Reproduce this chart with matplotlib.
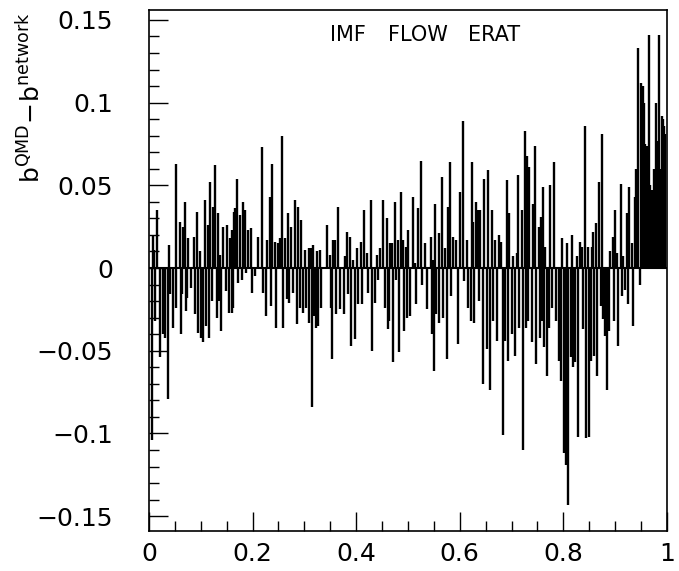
import matplotlib
matplotlib.use("Agg")
import matplotlib.pyplot as plt
from matplotlib.ticker import MultipleLocator, FuncFormatter

# b/bmax positions and residuals b(QMD) - b(network) in slices
b_a = [0.005, 0.007, 0.010, 0.012, 0.015, 0.021, 0.028, 0.031, 0.036, 0.039,
       0.041, 0.047, 0.052, 0.053, 0.060, 0.062, 0.064, 0.066, 0.069, 0.071,
       0.073, 0.076, 0.082, 0.086, 0.089, 0.092, 0.095, 0.098, 0.100, 0.105,
       0.108, 0.111, 0.114, 0.116, 0.118, 0.121, 0.124, 0.127, 0.131, 0.133,
       0.135, 0.137, 0.140, 0.143, 0.148, 0.150, 0.154, 0.156, 0.160, 0.161,
       0.162, 0.165, 0.166, 0.169]
d_a = [-0.104, 0.020, 0.011, -0.032, 0.035, -0.054, -0.040, -0.042, -0.079, 0.014,
       -0.016, -0.036, -0.024, 0.063, 0.028, -0.040, -0.016, 0.025, 0.040, -0.026,
       -0.018, 0.018, -0.012, 0.019, -0.028, 0.034, -0.039, 0.010, -0.042, -0.045,
       0.041, -0.035, 0.026, -0.042, 0.052, -0.020, 0.037, 0.062, -0.030, 0.033,
       -0.020, 0.008, -0.038, 0.025, -0.014, 0.026, -0.027, 0.018, -0.027, 0.023,
       -0.024, 0.034, 0.036, 0.054]

b_b = [0.172, 0.176, 0.179, 0.181, 0.185, 0.187, 0.192, 0.196, 0.198, 0.205,
       0.211, 0.218, 0.221, 0.226, 0.228, 0.234, 0.236, 0.238, 0.243, 0.245,
       0.250, 0.253, 0.257, 0.259, 0.263, 0.266, 0.269, 0.270, 0.274, 0.279,
       0.282, 0.285, 0.288, 0.291, 0.293, 0.298, 0.301, 0.303, 0.308, 0.309,
       0.312, 0.315, 0.317, 0.319, 0.322, 0.325, 0.327, 0.330, 0.333]
d_b = [-0.009, 0.032, -0.007, 0.040, 0.035, -0.003, 0.023, 0.024, -0.015, -0.005,
       0.019, 0.073, -0.015, -0.029, 0.017, 0.043, -0.023, 0.063, 0.016, -0.036,
       0.015, 0.018, 0.080, -0.036, 0.018, -0.019, 0.033, -0.021, 0.025, -0.015,
       0.041, -0.034, 0.037, -0.024, 0.029, -0.027, 0.011, -0.024, 0.012, -0.033,
       0.012, -0.084, 0.014, -0.029, -0.036, 0.010, -0.035, 0.011, -0.024]

b_c = [0.343, 0.349, 0.351, 0.354, 0.356, 0.359, 0.361, 0.364, 0.369, 0.376,
       0.378, 0.382, 0.385, 0.388, 0.390, 0.394, 0.398, 0.401, 0.404, 0.409,
       0.411, 0.416, 0.420, 0.422, 0.429, 0.431, 0.436, 0.440, 0.443, 0.446,
       0.452, 0.456, 0.459, 0.461, 0.463, 0.465, 0.469, 0.472, 0.475, 0.477,
       0.481, 0.483, 0.486, 0.491, 0.492, 0.496, 0.498]
d_c = [0.026, 0.008, -0.024, -0.055, 0.017, 0.017, -0.028, 0.037, -0.025, -0.028,
       0.007, 0.022, -0.016, 0.019, -0.047, 0.005, -0.043, 0.012, -0.022, 0.016,
       -0.022, 0.035, 0.009, -0.015, 0.041, -0.050, -0.021, 0.008, -0.007, 0.012,
       0.041, -0.024, 0.030, -0.037, -0.032, 0.015, 0.015, -0.057, 0.040, -0.007,
       0.017, -0.051, 0.046, 0.017, -0.038, 0.013, -0.030]

b_d = [0.501, 0.504, 0.510, 0.514, 0.515, 0.520, 0.526, 0.528, 0.533, 0.536,
       0.544, 0.546, 0.548, 0.550, 0.552, 0.555, 0.559, 0.560, 0.565, 0.568,
       0.571, 0.575, 0.578, 0.581, 0.583, 0.587, 0.593, 0.597, 0.600, 0.607,
       0.608, 0.613, 0.616, 0.622, 0.623, 0.626, 0.627, 0.631, 0.636, 0.637,
       0.640, 0.644, 0.647, 0.653, 0.655, 0.658]
d_d = [0.023, -0.029, 0.043, 0.003, -0.022, 0.036, 0.065, -0.010, 0.015, -0.025,
       0.019, -0.040, 0.005, -0.062, 0.039, -0.028, -0.033, 0.021, 0.055, -0.030,
       0.012, -0.055, 0.037, 0.064, -0.017, 0.019, 0.017, -0.046, 0.046, 0.089,
       -0.008, 0.017, -0.024, -0.032, 0.064, 0.028, -0.033, 0.040, 0.035, -0.020,
       0.035, -0.070, 0.054, -0.049, 0.059, -0.074]

b_e = [0.662, 0.665, 0.668, 0.671, 0.676, 0.680, 0.683, 0.687, 0.691, 0.693,
       0.695, 0.700, 0.703, 0.707, 0.710, 0.713, 0.715, 0.720, 0.722, 0.725,
       0.727, 0.729, 0.732, 0.734, 0.739, 0.742, 0.745, 0.747, 0.752, 0.754,
       0.756, 0.758, 0.760, 0.763, 0.765, 0.768, 0.772, 0.774, 0.778, 0.781,
       0.785, 0.792, 0.795, 0.798, 0.801, 0.805, 0.807, 0.809, 0.815, 0.817,
       0.819, 0.822, 0.826, 0.829]
d_e = [0.035, -0.032, 0.017, -0.044, 0.020, 0.016, -0.101, -0.044, 0.053, -0.056,
       0.033, -0.040, 0.007, -0.053, 0.009, 0.056, -0.036, 0.035, -0.110, 0.083,
       -0.036, 0.068, -0.032, 0.061, -0.045, 0.039, 0.074, -0.058, 0.025, -0.042,
       0.031, -0.032, 0.049, -0.048, 0.013, -0.065, -0.036, 0.050, -0.024, 0.064,
       -0.032, -0.056, -0.068, 0.018, -0.112, -0.119, 0.015, -0.143, -0.054, 0.020,
       -0.060, -0.057, 0.007, -0.102]

b_f = [0.832, 0.835, 0.837, 0.842, 0.844, 0.848, 0.850, 0.853, 0.855, 0.858,
       0.860, 0.863, 0.865, 0.869, 0.872, 0.875, 0.877, 0.880, 0.884, 0.888,
       0.890, 0.895, 0.897, 0.899, 0.903, 0.906, 0.911, 0.913, 0.916, 0.918,
       0.922, 0.925, 0.927, 0.932, 0.934, 0.938, 0.940, 0.945, 0.948, 0.950,
       0.952, 0.954, 0.956, 0.958, 0.960, 0.962, 0.964, 0.966, 0.968, 0.972,
       0.974, 0.977, 0.979, 0.981, 0.983, 0.985, 0.988, 0.990, 0.992, 0.995,
       0.997]
d_f = [0.016, 0.013, -0.037, 0.086, -0.103, 0.013, -0.102, -0.056, 0.013, 0.022,
       -0.053, 0.027, -0.065, 0.052, -0.023, 0.081, -0.031, -0.041, -0.074, -0.038,
       0.010, 0.019, -0.032, 0.035, 0.009, -0.047, 0.051, -0.017, 0.007, -0.013,
       0.033, -0.022, 0.049, 0.015, -0.035, 0.043, 0.060, 0.133, -0.010, 0.112,
       0.090, 0.110, 0.100, 0.075, 0.070, 0.074, 0.030, 0.141, 0.050, 0.047,
       0.060, 0.058, 0.100, 0.077, 0.050, 0.141, 0.060, 0.092, 0.090, 0.086,
       0.081]

b_all = b_a + b_b + b_c + b_d + b_e + b_f
d_all = d_a + d_b + d_c + d_d + d_e + d_f

title_words = ["IMF", "FLOW", "ERAT"]


def fmt(v, pos):
    s = "%g" % round(v, 3)
    return s.replace("-", "\u2212")


plt.rcParams['font.family'] = ['DejaVu Sans']
fig = plt.figure(figsize=(6.79, 5.71), dpi=100)
ax = fig.add_axes([0.2194, 0.070, 0.7629, 0.9125])

ax.vlines(b_all, 0, d_all, color='black', lw=1.7)
ax.axhline(0, color='black', lw=1.5)

ax.set_xlim(0, 1)
ax.set_ylim(-0.159, 0.156)

ax.xaxis.set_major_locator(MultipleLocator(0.2))
ax.xaxis.set_minor_locator(MultipleLocator(0.05))
ax.yaxis.set_major_locator(MultipleLocator(0.05))
ax.yaxis.set_minor_locator(MultipleLocator(0.01))
ax.xaxis.set_major_formatter(FuncFormatter(fmt))
ax.yaxis.set_major_formatter(FuncFormatter(fmt))

ax.tick_params(axis='both', which='both', direction='in', top=False, right=False,
               width=1.0, labelsize=18)
ax.tick_params(axis='both', which='major', length=14)
ax.tick_params(axis='both', which='minor', length=7)
ax.tick_params(axis='y', which='major', pad=26)
ax.tick_params(axis='x', which='major', pad=8)

for sp in ax.spines.values():
    sp.set_linewidth(1.2)

# title words spread out like the original
for word, xpos in zip(title_words, [0.384, 0.519, 0.666]):
    ax.text(xpos, 0.952, word, transform=ax.transAxes, ha='center', va='center',
            fontsize=15)

fig.text(0.045, 0.83, r'$\mathregular{b^{QMD}\!-\!b^{network}}$', rotation=90,
         ha='center', va='center', fontsize=18)

fig.savefig("out.png", dpi=100)
